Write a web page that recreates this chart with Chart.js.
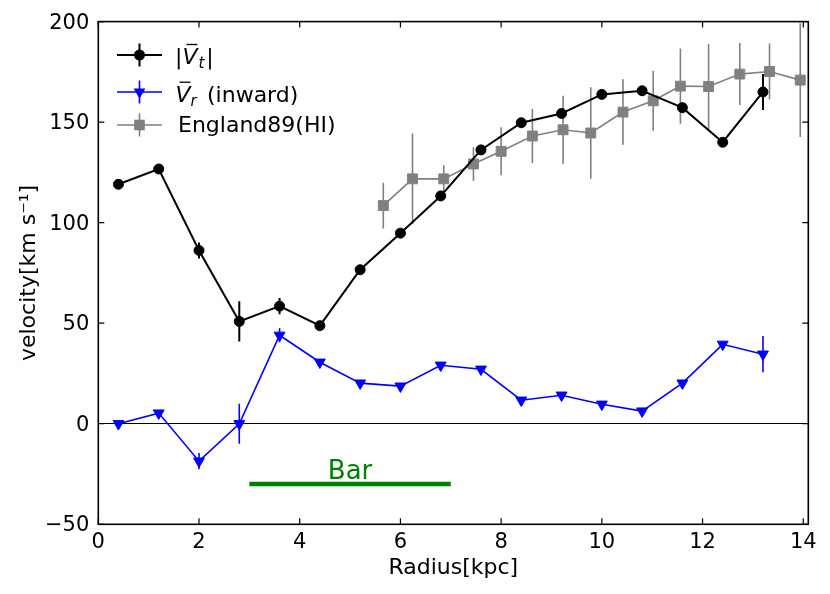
<!DOCTYPE html>
<html>
<head>
<meta charset="utf-8">
<script src="https://cdn.jsdelivr.net/npm/chart.js@4.4.1/dist/chart.umd.min.js"></script>
<style>
html,body{margin:0;padding:0;background:#fff;}
#wrap{width:830px;height:594px;}
</style>
</head>
<body>
<div id="wrap"><canvas id="c" width="830" height="594"></canvas></div>
<script>
// ---- data ----
const radiusKpc = [0.4, 1.2, 2.0, 2.8, 3.6, 4.4, 5.2, 6.0, 6.8, 7.6, 8.4, 9.2, 10.0, 10.8, 11.6, 12.4, 13.2];
const vTangential = [119.1, 126.7, 86.2, 50.9, 58.5, 48.8, 76.6, 94.8, 113.3, 136.2, 149.7, 154.3, 163.8, 165.6, 157.2, 140.0, 165.0];
const vTangentialErr = [1.5, 1.5, 4, 10, 4, 1.5, 1.5, 1.5, 1.5, 1.5, 1.5, 1.5, 1.5, 1.5, 1.5, 1.5, 9];
const vRadial = [0, 5.3, -18.6, 0, 44.0, 30.6, 20.2, 18.7, 29.1, 27.1, 11.7, 14.2, 9.7, 6.3, 20.2, 39.5, 34.6];
const vRadialErr = [1.5, 1.5, 4, 10, 3.5, 1.5, 1.5, 1.5, 1.5, 1.5, 1.5, 1.5, 1.5, 1.5, 1.5, 1.5, 9];
const hiRadius = [5.66, 6.24, 6.86, 7.45, 8.0, 8.62, 9.23, 9.78, 10.42, 11.02, 11.56, 12.12, 12.74, 13.33, 13.94];
const hiVelocity = [108.5, 121.8, 121.8, 129.2, 135.5, 143.1, 146.2, 144.6, 155.0, 160.6, 167.9, 167.7, 173.9, 175.2, 170.9];
const hiErr = [11.4, 22.5, 6.8, 8.3, 11.9, 13.4, 16.9, 22.7, 16.3, 14.9, 18.7, 21.1, 15.4, 13.9, 28.3];
const barExtent = [3, 7];
const barLevel = -30;
const barLabel = 'Bar';
const barLabelPos = [5, -27.6];
const xTicks = [0, 2, 4, 6, 8, 10, 12, 14];
const yTicks = [-50, 0, 50, 100, 150, 200];
const xLabel = 'Radius[kpc]';
const yLabel = 'velocity[km s\u207B\u00B9]';
const legendHI = 'England89(HI)';
const legendInward = '(inward)';

const FONT = 'DejaVu Sans';
Chart.defaults.font.family = FONT;
Chart.defaults.color = '#000';

const pts = (xs, ys) => xs.map((x, i) => ({x: x, y: ys[i]}));
const fmt = v => String(v).replace('-', '\u2212');

// error bars drawn just before each dataset, via the chart scales
const errorBars = {
  id: 'errorBars',
  beforeDatasetDraw(chart, args) {
    const ds = chart.data.datasets[args.index];
    if (!ds.errorValues) return;
    const {ctx, chartArea: a, scales: {x, y}} = chart;
    ctx.save();
    ctx.beginPath();
    ctx.rect(a.left, a.top, a.right - a.left, a.bottom - a.top);
    ctx.clip();
    ctx.strokeStyle = ds.borderColor;
    ctx.lineWidth = ds.errorWidth;
    ds.data.forEach((p, i) => {
      const e = ds.errorValues[i];
      const px = x.getPixelForValue(p.x);
      ctx.beginPath();
      ctx.moveTo(px, y.getPixelForValue(p.y - e));
      ctx.lineTo(px, y.getPixelForValue(p.y + e));
      ctx.stroke();
    });
    ctx.restore();
  }
};

function marker(ctx, style, x, y, color) {
  ctx.fillStyle = color;
  ctx.beginPath();
  if (style === 'circle') {
    ctx.arc(x, y, 5.5, 0, Math.PI * 2);
  } else if (style === 'rect') {
    ctx.rect(x - 5.3, y - 5.3, 10.6, 10.6);
  } else {
    const r = 6.8;
    ctx.moveTo(x, y + r);
    ctx.lineTo(x - r * 0.866, y - r / 2);
    ctx.lineTo(x + r * 0.866, y - r / 2);
    ctx.closePath();
  }
  ctx.fill();
}

function legendHandle(ctx, y, color, style, lw) {
  ctx.strokeStyle = color;
  ctx.lineWidth = lw;
  ctx.beginPath();
  ctx.moveTo(117, y); ctx.lineTo(162, y);
  ctx.moveTo(139.5, y - 11.5); ctx.lineTo(139.5, y + 11.5);
  ctx.stroke();
  marker(ctx, style, 139.5, y, color);
}

const decor = {
  id: 'decor',
  afterDraw(chart) {
    const {ctx, chartArea: a, scales: {x, y}} = chart;
    ctx.save();
    // Bar label
    ctx.fillStyle = '#008000';
    ctx.font = '26px ' + FONT;
    ctx.textAlign = 'center';
    ctx.textBaseline = 'alphabetic';
    ctx.fillText(barLabel, x.getPixelForValue(barLabelPos[0]), y.getPixelForValue(barLabelPos[1]));

    // inward ticks on all four sides
    ctx.strokeStyle = '#000';
    ctx.lineWidth = 1.2;
    const L = 6;
    ctx.beginPath();
    xTicks.forEach(v => {
      const px = x.getPixelForValue(v);
      ctx.moveTo(px, a.bottom); ctx.lineTo(px, a.bottom - L);
      ctx.moveTo(px, a.top); ctx.lineTo(px, a.top + L);
    });
    yTicks.forEach(v => {
      const py = y.getPixelForValue(v);
      ctx.moveTo(a.left, py); ctx.lineTo(a.left + L, py);
      ctx.moveTo(a.right, py); ctx.lineTo(a.right - L, py);
    });
    ctx.stroke();
    ctx.lineWidth = 1.6;
    ctx.strokeRect(a.left, a.top, a.right - a.left, a.bottom - a.top);

    // legend
    legendHandle(ctx, 55, '#000000', 'circle', 2);
    legendHandle(ctx, 92, '#0000ff', 'triangle', 1.6);
    legendHandle(ctx, 125, '#808080', 'rect', 1.6);

    ctx.textAlign = 'left';
    ctx.fillStyle = '#000';
    // row 1: |V̄_t|
    let bx = 175, by = 63.5;
    ctx.font = '22px ' + FONT;
    ctx.fillText('|', bx, by);
    let xx = bx + ctx.measureText('|').width;
    ctx.font = 'italic 22px ' + FONT;
    ctx.fillText('V', xx, by);
    let wV = ctx.measureText('V').width;
    ctx.lineWidth = 1.3;
    ctx.strokeStyle = '#000';
    ctx.beginPath(); ctx.moveTo(xx + 4, by - 19); ctx.lineTo(xx + 15, by - 19); ctx.stroke();
    ctx.font = 'italic 15px ' + FONT;
    ctx.fillText('t', xx + wV + 1, by + 4);
    let tEnd = xx + wV + 1 + ctx.measureText('t').width;
    ctx.font = '22px ' + FONT;
    ctx.fillText('|', tEnd + 2, by);

    // row 2: V̄_r (inward)
    by = 101.7; xx = 175.5;
    ctx.font = 'italic 22px ' + FONT;
    ctx.fillText('V', xx, by);
    ctx.beginPath(); ctx.moveTo(xx + 4, by - 19.5); ctx.lineTo(xx + 15, by - 19.5); ctx.stroke();
    ctx.font = 'italic 15px ' + FONT;
    ctx.fillText('r', xx + wV, by + 4);
    ctx.font = '22px ' + FONT;
    ctx.fillText(legendInward, 207, by);

    // row 3
    ctx.fillText(legendHI, 178, 131.7);
    ctx.restore();
  }
};

new Chart(document.getElementById('c'), {
  type: 'line',
  data: {
    datasets: [
      {
        label: '|V_t|',
        data: pts(radiusKpc, vTangential),
        errorValues: vTangentialErr,
        errorWidth: 2,
        borderColor: '#000000',
        backgroundColor: '#000000',
        borderWidth: 2,
        pointStyle: 'circle',
        pointRadius: 5,
        pointBorderWidth: 1,
        pointHoverRadius: 5,
        tension: 0
      },
      {
        label: 'V_r (inward)',
        data: pts(radiusKpc, vRadial),
        errorValues: vRadialErr,
        errorWidth: 1.6,
        borderColor: '#0000ff',
        backgroundColor: '#0000ff',
        borderWidth: 1.6,
        pointStyle: 'triangle',
        pointRotation: 180,
        pointRadius: 6.3,
        pointBorderWidth: 1,
        pointHoverRadius: 6.3,
        tension: 0
      },
      {
        label: legendHI,
        data: pts(hiRadius, hiVelocity),
        errorValues: hiErr,
        errorWidth: 1.6,
        borderColor: '#808080',
        backgroundColor: '#808080',
        borderWidth: 1.6,
        pointStyle: 'rect',
        pointRadius: 7,
        pointBorderWidth: 1,
        pointHoverRadius: 7,
        tension: 0
      },
      {
        label: barLabel,
        data: pts(barExtent, barExtent.map(() => barLevel)),
        borderColor: '#008000',
        backgroundColor: '#008000',
        borderWidth: 4.5,
        pointRadius: 0,
        pointHoverRadius: 0,
        tension: 0
      }
    ]
  },
  options: {
    responsive: false,
    devicePixelRatio: 1,
    animation: false,
    events: [],
    layout: {padding: {top: 20.7, right: 21.7, left: 0, bottom: 0}},
    plugins: {legend: {display: false}, tooltip: {enabled: false}},
    scales: {
      x: {
        type: 'linear',
        min: 0,
        max: 14.1,
        afterBuildTicks: s => { s.ticks = xTicks.map(v => ({value: v})); },
        afterFit: s => { s.height = 69.7; },
        grid: {display: false, drawTicks: false},
        border: {display: false},
        ticks: {font: {size: 21}, padding: 6, color: '#000', maxRotation: 0, callback: v => fmt(v)},
        title: {display: true, text: xLabel, font: {size: 22}, color: '#000', padding: {top: 0, bottom: 12.5}}
      },
      y: {
        type: 'linear',
        min: -50,
        max: 200,
        afterBuildTicks: s => { s.ticks = yTicks.map(v => ({value: v})); },
        afterFit: s => { s.width = 98.3; },
        grid: {
          drawTicks: false,
          color: c => (c.tick && c.tick.value === 0 ? '#000000' : 'rgba(0,0,0,0)'),
          lineWidth: 1
        },
        border: {display: false},
        ticks: {font: {size: 21}, padding: 9, color: '#000', labelOffset: 1.5, callback: v => fmt(v)},
        title: {display: true, text: yLabel, font: {size: 22}, color: '#000', padding: {top: 15.9, bottom: 0}}
      }
    }
  },
  plugins: [errorBars, decor]
});
</script>
</body>
</html>
